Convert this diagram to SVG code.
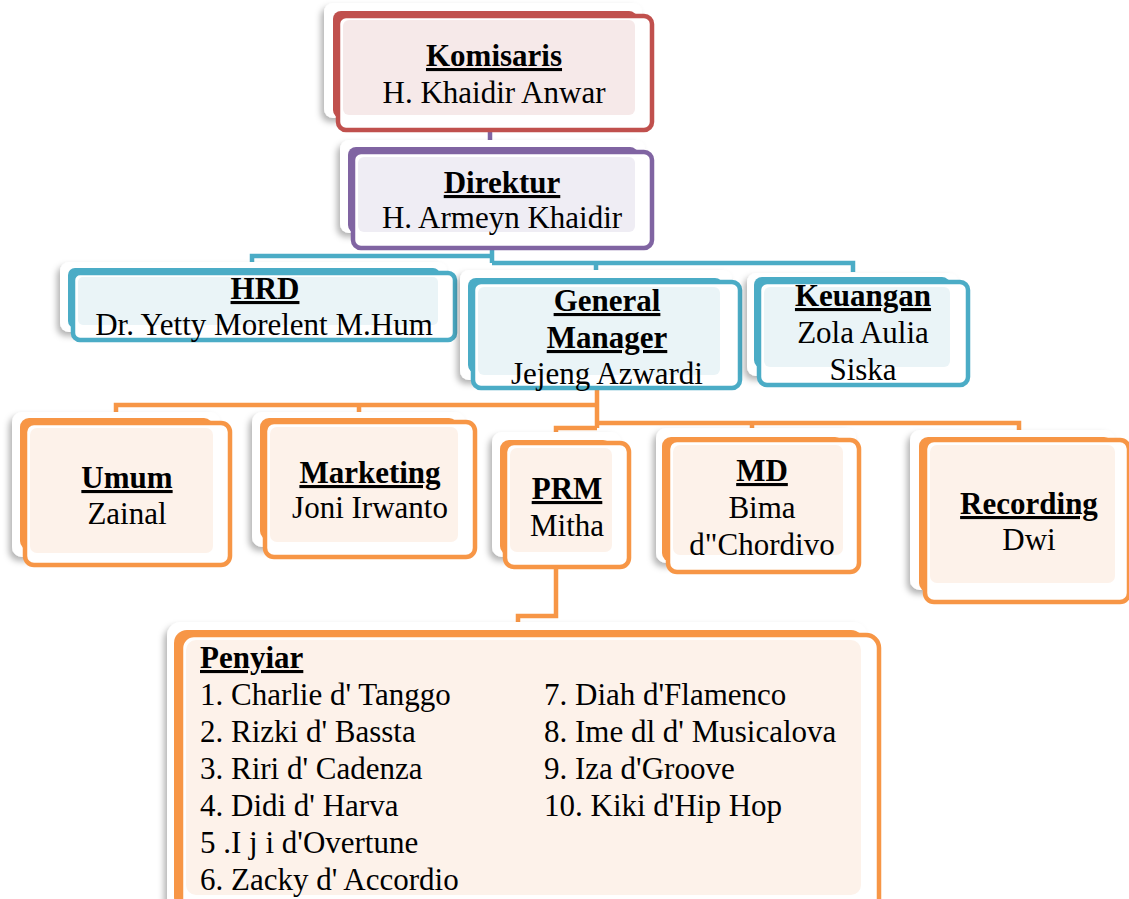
<svg xmlns="http://www.w3.org/2000/svg" width="1129" height="899" viewBox="0 0 1129 899">
<defs>
<filter id="sh" x="-10%" y="-10%" width="120%" height="130%">
<feDropShadow dx="-3" dy="4" stdDeviation="3" flood-color="#000" flood-opacity="0.3"/>
</filter>
<style>
.card{fill:#fff;filter:url(#sh)}
.t{font-family:"Liberation Serif","Times New Roman",serif;font-size:31px;fill:#000}
.h{font-weight:bold;text-decoration:underline}
.c{text-anchor:middle}
.front{fill:#fff;stroke-width:4.5}
.red .back{fill:#C0504D}.red .front{stroke:#C0504D}.red .tint{fill:#F6E9E9}
.pur .back{fill:#8064A2}.pur .front{stroke:#8064A2}.pur .tint{fill:#EFEDF4}
.blu .back{fill:#4BACC6}.blu .front{stroke:#4BACC6}.blu .tint{fill:#EAF4F7}
.org .back{fill:#F79646}.org .front{stroke:#F79646}.org .tint{fill:#FDF2EA}
.cb{fill:none;stroke:#4BACC6;stroke-width:4.5}
.co{fill:none;stroke:#F79646;stroke-width:4.5}
.cp{fill:none;stroke:#8064A2;stroke-width:4.5}
</style>
</defs>
<rect width="1129" height="899" fill="#fff"/>
<g id="connectors">
<path class="cp" d="M486,118 V128 H490 V142"/>
<path class="cb" d="M492,240 V263 M252,266 V256 H492 M492,263 H853 V272 M596,263 V272"/>
<path class="co" d="M597,380 V428 M116,414 V405 H597 M359,405 V412 M597,423 H1019 V432 M752,423 V432 M597,428 H556 V446"/>
<path class="co" d="M556,560 V616 H518 V624"/>
</g>
<g id="komisaris" class="red">
<rect class="card" x="324" y="3" width="318" height="115" rx="9"/>
<rect class="back" x="333" y="11" width="304" height="107" rx="8"/>
<rect class="front" x="338" y="16" width="314" height="114" rx="8"/>
<rect class="tint" x="343" y="20" width="292" height="95" rx="6"/>
<text class="t h c" x="494" y="66">Komisaris</text>
<text class="t c" x="494" y="103">H. Khaidir Anwar</text>
</g>
<g id="direktur" class="pur">
<rect class="card" x="340" y="140" width="305" height="93" rx="9"/>
<rect class="back" x="348" y="147" width="290" height="86" rx="8"/>
<rect class="front" x="353" y="152" width="299" height="96" rx="8"/>
<rect class="tint" x="358" y="157" width="277" height="75" rx="6"/>
<text class="t h c" x="502" y="193">Direktur</text>
<text class="t c" x="502" y="228">H. Armeyn Khaidir</text>
</g>
<g id="hrd" class="blu">
<rect class="card" x="60" y="262" width="387" height="70" rx="9"/>
<rect class="back" x="68" y="268" width="372" height="60" rx="7"/>
<rect class="front" x="73" y="273" width="382" height="67" rx="7"/>
<rect class="tint" x="78" y="277" width="360" height="48" rx="5"/>
<text class="t h c" x="265" y="299">HRD</text>
<text class="t c" x="264" y="335">Dr. Yetty Morelent M.Hum</text>
</g>
<g id="gm" class="blu">
<rect class="card" x="460" y="270" width="272" height="110" rx="9"/>
<rect class="back" x="468" y="278" width="255" height="95" rx="8"/>
<rect class="front" x="473" y="282" width="267" height="106" rx="8"/>
<rect class="tint" x="478" y="287" width="242" height="88" rx="6"/>
<text class="t h c" x="607" y="311">General</text>
<text class="t h c" x="607" y="348">Manager</text>
<text class="t c" x="607" y="384">Jejeng Azwardi</text>
</g>
<g id="keuangan" class="blu">
<rect class="card" x="747" y="273" width="211" height="103" rx="9"/>
<rect class="back" x="754" y="277" width="196" height="91" rx="8"/>
<rect class="front" x="759" y="282" width="209" height="103" rx="8"/>
<rect class="tint" x="764" y="287" width="186" height="80" rx="6"/>
<text class="t h c" x="863" y="306">Keuangan</text>
<text class="t c" x="863" y="343">Zola Aulia</text>
<text class="t c" x="863" y="380">Siska</text>
</g>
<g id="umum" class="org">
<rect class="card" x="12" y="412" width="208" height="145" rx="10"/>
<rect class="back" x="20" y="418" width="193" height="132" rx="9"/>
<rect class="front" x="25" y="423" width="205" height="142" rx="9"/>
<rect class="tint" x="30" y="428" width="183" height="125" rx="7"/>
<text class="t h c" x="127" y="488">Umum</text>
<text class="t c" x="127" y="524">Zainal</text>
</g>
<g id="marketing" class="org">
<rect class="card" x="252" y="412" width="213" height="135" rx="10"/>
<rect class="back" x="260" y="418" width="198" height="122" rx="9"/>
<rect class="front" x="265" y="422" width="210" height="135" rx="9"/>
<rect class="tint" x="270" y="427" width="188" height="115" rx="7"/>
<text class="t h c" x="370" y="483">Marketing</text>
<text class="t c" x="370" y="518">Joni Irwanto</text>
</g>
<g id="prm" class="org">
<rect class="card" x="492" y="432" width="129" height="125" rx="10"/>
<rect class="back" x="500" y="440" width="112" height="115" rx="9"/>
<rect class="front" x="505" y="443" width="124" height="124" rx="9"/>
<rect class="tint" x="510" y="448" width="102" height="104" rx="7"/>
<text class="t h c" x="567" y="499">PRM</text>
<text class="t c" x="567" y="536">Mitha</text>
</g>
<g id="md" class="org">
<rect class="card" x="656" y="428" width="200" height="135" rx="10"/>
<rect class="back" x="662" y="437" width="182" height="125" rx="9"/>
<rect class="front" x="668" y="440" width="191" height="132" rx="9"/>
<rect class="tint" x="673" y="445" width="170" height="110" rx="7"/>
<text class="t h c" x="762" y="481">MD</text>
<text class="t c" x="762" y="518">Bima</text>
<text class="t c" x="762" y="555">d"Chordivo</text>
</g>
<g id="recording" class="org">
<rect class="card" x="910" y="430" width="205" height="160" rx="10"/>
<rect class="back" x="919" y="437" width="194" height="155" rx="9"/>
<rect class="front" x="925" y="440" width="204" height="162" rx="9"/>
<rect class="tint" x="930" y="445" width="185" height="138" rx="7"/>
<text class="t h c" x="1029" y="514">Recording</text>
<text class="t c" x="1029" y="550">Dwi</text>
</g>
<g id="penyiar" class="org">
<rect class="card" x="167" y="622" width="700" height="290" rx="14"/>
<rect class="back" x="174" y="630" width="690" height="280" rx="13"/>
<rect class="front" x="181" y="635" width="698" height="290" rx="13"/>
<rect class="tint" x="186" y="640" width="675" height="255" rx="10"/>
<text class="t h" x="200" y="668">Penyiar</text>
<text class="t" x="200" y="705">1. Charlie d' Tanggo</text>
<text class="t" x="200" y="742">2. Rizki d' Bassta</text>
<text class="t" x="200" y="779">3. Riri d' Cadenza</text>
<text class="t" x="200" y="816">4. Didi d' Harva</text>
<text class="t" x="200" y="853">5 .I j i d'Overtune</text>
<text class="t" x="200" y="890">6. Zacky d' Accordio</text>
<text class="t" x="544" y="705">7. Diah d'Flamenco</text>
<text class="t" x="544" y="742">8. Ime dl d' Musicalova</text>
<text class="t" x="544" y="779">9. Iza d'Groove</text>
<text class="t" x="544" y="816">10. Kiki d'Hip Hop</text>
</g>
</svg>
